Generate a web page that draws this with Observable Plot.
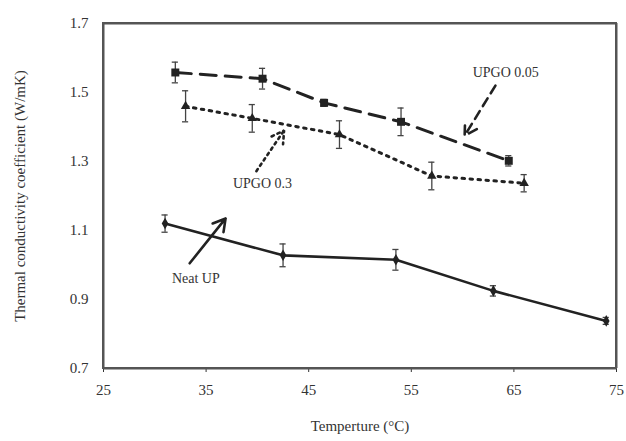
<!DOCTYPE html>
<html>
<head>
<meta charset="utf-8">
<script src="https://cdn.jsdelivr.net/npm/d3@7"></script>
<script src="https://cdn.jsdelivr.net/npm/@observablehq/plot@0.6"></script>
<style>
  html, body { margin: 0; padding: 0; background: #fff; overflow: hidden; }
  #chart svg { display: block; max-width: none !important; }
</style>
</head>
<body>
<div id="chart"></div>
<script>
// Series data
const neatTemp = [31, 42.5, 53.5, 63, 74];
const neatK    = [1.12, 1.028, 1.015, 0.925, 0.838];
const neatErr  = [0.025, 0.033, 0.03, 0.015, 0.01];

const go005Temp = [32, 40.5, 46.5, 54, 64.5];
const go005K    = [1.558, 1.54, 1.47, 1.415, 1.302];
const go005Err  = [0.03, 0.03, 0.01, 0.04, 0.015];

const go03Temp = [33, 39.5, 48, 57, 66];
const go03K    = [1.46, 1.425, 1.378, 1.258, 1.237];
const go03Err  = [0.045, 0.04, 0.04, 0.04, 0.025];

const xTicks = [25, 35, 45, 55, 65, 75];
const yTicks = [0.7, 0.9, 1.1, 1.3, 1.5, 1.7];
const xDomain = [25, 75];
const yDomain = [0.7, 1.7];

// Annotation labels with arrows (data coordinates)
const labels = [
  {text: "UPGO 0.05", x: 64.2, y: 1.558, ax1: 63.2, ay1: 1.52, ax2: 60.2, ay2: 1.375},
  {text: "UPGO 0.3",  x: 40.5, y: 1.236, ax1: 39.9, ay1: 1.272, ax2: 42.6, ay2: 1.39},
  {text: "Neat UP",   x: 34.0, y: 0.961, ax1: 33.4, ay1: 1.005, ax2: 36.9, ay2: 1.135}
];

const mk = (t, k, e) => t.map((x, i) => ({x, y: k[i], e: e[i]}));
const neat = mk(neatTemp, neatK, neatErr);
const go005 = mk(go005Temp, go005K, go005Err);
const go03 = mk(go03Temp, go03K, go03Err);

const font = "'Liberation Serif', 'Times New Roman', serif";
const ink = "#222";
const boxInk = "#555";
const capHalf = 0.3;

function errorMarks(data) {
  return [
    Plot.ruleX(data, {x: "x", y1: d => d.y - d.e, y2: d => d.y + d.e, stroke: "#444", strokeWidth: 1.3}),
    Plot.ruleY(data, {y: d => d.y - d.e, x1: d => d.x - capHalf, x2: d => d.x + capHalf, stroke: "#444", strokeWidth: 1.3}),
    Plot.ruleY(data, {y: d => d.y + d.e, x1: d => d.x - capHalf, x2: d => d.x + capHalf, stroke: "#444", strokeWidth: 1.3})
  ];
}

const arrowOpts = {x1: "ax1", y1: "ay1", x2: "ax2", y2: "ay2", stroke: ink, strokeWidth: 2.6, headLength: 8};

// Box edges built from the domains
const box = [{x1: xDomain[0], x2: xDomain[1], y1: yDomain[0], y2: yDomain[1]}];

const chart = Plot.plot({
  width: 626,
  height: 441,
  marginLeft: 103,
  marginRight: 10,
  marginTop: 23,
  marginBottom: 73,
  style: {fontFamily: font, fontSize: "15px", color: "#333", background: "#fff", overflow: "visible"},
  x: {domain: xDomain, ticks: xTicks, tickSize: 4, tickPadding: 12, label: null},
  y: {domain: yDomain, ticks: yTicks, tickSize: 0, tickPadding: 15, tickFormat: d3.format(".1f"), label: null},
  marks: [
    // Box frame (four edges)
    Plot.rect(box, {x1: "x1", x2: "x2", y1: "y1", y2: "y2", fill: "none", stroke: boxInk, strokeWidth: 2}),
    Plot.ruleY(box, {y: "y2", x1: "x1", x2: "x2", stroke: boxInk, strokeWidth: 2}),
    Plot.ruleY(box, {y: "y1", x1: "x1", x2: "x2", stroke: boxInk, strokeWidth: 2}),
    Plot.ruleX(box, {x: "x1", y1: "y1", y2: "y2", stroke: boxInk, strokeWidth: 2}),
    Plot.ruleX(box, {x: "x2", y1: "y1", y2: "y2", stroke: boxInk, strokeWidth: 2}),
    // Neat UP
    ...errorMarks(neat),
    Plot.line(neat, {x: "x", y: "y", stroke: ink, strokeWidth: 2.6}),
    Plot.dot(neat, {x: "x", y: "y", symbol: "diamond", r: 3.5, fill: ink}),
    // UPGO 0.05
    ...errorMarks(go005),
    Plot.line(go005, {x: "x", y: "y", stroke: ink, strokeWidth: 3, strokeDasharray: "16,9"}),
    Plot.dot(go005, {x: "x", y: "y", symbol: "square", r: 4.5, fill: ink}),
    // UPGO 0.3
    ...errorMarks(go03),
    Plot.line(go03, {x: "x", y: "y", stroke: ink, strokeWidth: 3, strokeDasharray: "2.5,5.5"}),
    Plot.dot(go03, {x: "x", y: "y", symbol: "triangle", r: 3.5, fill: ink}),
    // Annotation arrows
    Plot.arrow(labels.slice(0, 1), {...arrowOpts, strokeDasharray: "9,6"}),
    Plot.arrow(labels.slice(1, 2), {...arrowOpts, strokeDasharray: "2.5,4"}),
    Plot.arrow(labels.slice(2, 3), arrowOpts),
    Plot.text(labels, {x: "x", y: "y", text: "text", fontSize: 14, fill: "#333"}),
    // Axis titles
    Plot.text(["Temperture (°C)"], {frameAnchor: "bottom", dy: 62, text: d => d, fontSize: 15, fill: "#333"}),
    Plot.text(["Thermal conductivity coefficient (W/mK)"], {frameAnchor: "left", textAnchor: "middle", dx: -83, rotate: -90, text: d => d, fontSize: 15, fill: "#333"})
  ]
});
document.getElementById("chart").appendChild(chart);
</script>
</body>
</html>
